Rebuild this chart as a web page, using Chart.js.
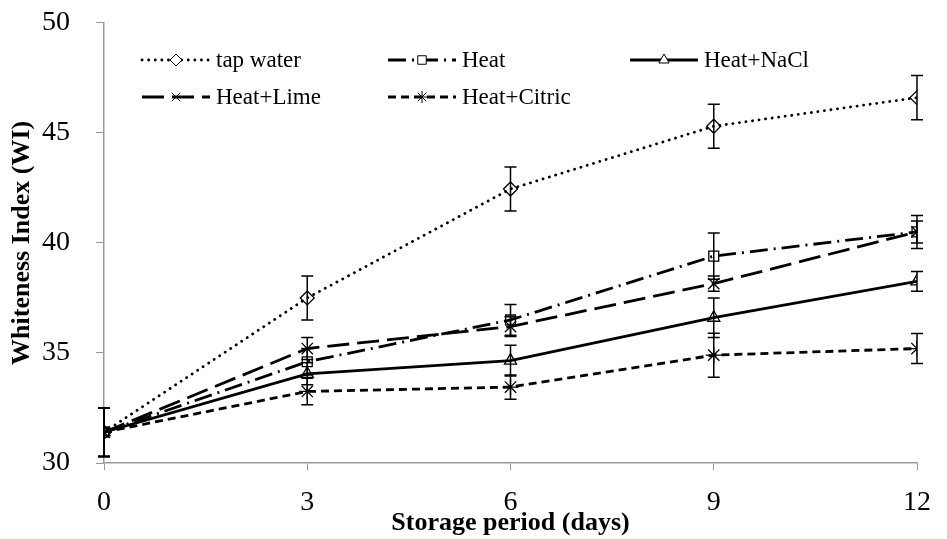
<!DOCTYPE html>
<html>
<head>
<meta charset="utf-8">
<script src="https://cdn.jsdelivr.net/npm/chart.js@4"></script>
<style>
  html, body { margin: 0; padding: 0; background: #fff; }
  #wrap { width: 947px; height: 539px; position: relative; }
</style>
</head>
<body>
<div id="wrap"><canvas id="whiteChart"></canvas></div>
<script>
// storage days and whiteness index per treatment
const days = [0, 3, 6, 9, 12];
const yTicks = [30, 35, 40, 45, 50];

const tapWater = [31.4, 37.5, 42.45, 45.3, 46.6];
const heat = [31.4, 34.6, 36.5, 39.4, 40.5];
const heatNaCl = [31.4, 34.05, 34.65, 36.6, 38.25];
const heatLime = [31.4, 35.2, 36.2, 38.15, 40.5];
const heatCitric = [31.4, 33.25, 33.45, 34.9, 35.2];

// error bar half-lengths
const tapWaterErr = [1.1, 1.0, 1.0, 1.0, 1.0];
const heatErr = [1.1, 0.6, 0.7, 1.05, 0.75];
const heatNaClErr = [1.1, 0.5, 0.7, 0.9, 0.45];
const heatLimeErr = [1.1, 0.5, 0.45, 0.35, 0.5];
const heatCitricErr = [1.1, 0.6, 0.55, 1.0, 0.68];

const SERIF = "'Liberation Serif', 'Times New Roman', serif";

function pts(values) {
  return days.map((d, i) => ({ x: d, y: values[i] }));
}

function series(label, values, errs, dash, pointStyle, legendPos) {
  return {
    label: label,
    data: pts(values),
    errors: errs,
    legendPos: legendPos,
    borderColor: "#000",
    borderWidth: 2.8,
    borderDash: dash,
    borderCapStyle: dash.length && dash[0] <= 1 ? "round" : "butt",
    pointStyle: pointStyle,
    pointRadius: pointStyle === "star" || pointStyle === "crossRot" ? 8 : 7,
    pointBorderWidth: 1.3,
    pointBorderColor: "#000",
    pointBackgroundColor: "rgba(255,255,255,0)",
    tension: 0,
    fill: false,
  };
}

// vertical error bars with caps
const errorBars = {
  id: "errorBars",
  afterDatasetsDraw(chart) {
    const ctx = chart.ctx;
    const ys = chart.scales.y;
    ctx.save();
    ctx.strokeStyle = "#000";
    ctx.lineWidth = 1.5;
    chart.data.datasets.forEach((ds, di) => {
      const meta = chart.getDatasetMeta(di);
      meta.data.forEach((pt, i) => {
        const v = ds.data[i].y;
        const e = ds.errors[i];
        const top = ys.getPixelForValue(v + e);
        const bot = ys.getPixelForValue(v - e);
        const x = pt.x;
        ctx.beginPath();
        ctx.moveTo(x, top); ctx.lineTo(x, bot);
        ctx.moveTo(x - 6, top); ctx.lineTo(x + 6, top);
        ctx.moveTo(x - 6, bot); ctx.lineTo(x + 6, bot);
        ctx.stroke();
      });
    });
    ctx.restore();
  },
};

// two-row legend inside the plot, like the original figure
const insideLegend = {
  id: "insideLegend",
  afterDraw(chart) {
    const ctx = chart.ctx;
    ctx.save();
    ctx.textBaseline = "middle";
    chart.data.datasets.forEach((ds) => {
      const [x, y] = ds.legendPos;
      const w = 68;
      ctx.save();
      ctx.strokeStyle = "#000";
      ctx.lineWidth = ds.borderWidth;
      ctx.setLineDash(ds.borderDash);
      ctx.lineCap = ds.borderCapStyle;
      ctx.beginPath();
      ctx.moveTo(x, y); ctx.lineTo(x + w, y);
      ctx.stroke();
      ctx.restore();
      ctx.save();
      ctx.fillStyle = "#fff";
      ctx.strokeStyle = "#000";
      Chart.helpers.drawPoint(ctx, {
        pointStyle: ds.pointStyle,
        radius: 6,
        borderWidth: 1.3,
      }, x + w / 2, y);
      ctx.restore();
      ctx.font = "23px " + SERIF;
      ctx.fillStyle = "#000";
      ctx.fillText(ds.label, x + w + 6, y + 1);
    });
    ctx.restore();
  },
};

const axisTitles = {
  id: "axisTitles",
  afterDraw(chart) {
    const ctx = chart.ctx;
    const area = chart.chartArea;
    ctx.save();
    ctx.fillStyle = "#000";
    ctx.font = "bold 26px " + SERIF;
    ctx.textAlign = "center";
    ctx.textBaseline = "middle";
    ctx.fillText("Storage period (days)", (area.left + area.right) / 2, 523);
    ctx.translate(22, (area.top + area.bottom) / 2);
    ctx.rotate(-Math.PI / 2);
    ctx.fillText("Whiteness Index (WI)", 0, 0);
    ctx.restore();
  },
};

const ctx = document.getElementById("whiteChart").getContext("2d");
const chart = new Chart(ctx, {
  type: "line",
  data: {
    datasets: [
      series("tap water", tapWater, tapWaterErr, [0.1, 6.5], "rectRot", [142, 60]),
      series("Heat", heat, heatErr, [18, 6, 2, 6], "rect", [388, 60]),
      series("Heat+NaCl", heatNaCl, heatNaClErr, [], "triangle", [630, 60]),
      series("Heat+Lime", heatLime, heatLimeErr, [22, 8], "crossRot", [142, 97]),
      series("Heat+Citric", heatCitric, heatCitricErr, [8, 5], "star", [388, 97]),
    ],
  },
  options: {
    responsive: true,
    maintainAspectRatio: false,
    animation: false,
    layout: { padding: { left: 42, right: 15, top: 12, bottom: 5 } },
    plugins: {
      legend: { display: false },
      tooltip: { enabled: false },
    },
    scales: {
      x: {
        type: "linear",
        min: 0,
        max: 12,
        afterFit(axis) { axis.height = 71; },
        ticks: { stepSize: 3, color: "#000", font: { family: SERIF, size: 28 }, padding: 16 },
        grid: { drawOnChartArea: false, color: "#999", tickLength: 7 },
        border: { color: "#999", width: 1.5 },
      },
      y: {
        min: 30,
        max: 50,
        afterBuildTicks(axis) { axis.ticks = yTicks.map(v => ({ value: v })); },
        afterFit(axis) { axis.width = 62; },
        ticks: { color: "#000", font: { family: SERIF, size: 28 }, padding: 6, crossAlign: "far" },
        grid: { drawOnChartArea: false, color: "#999", tickLength: 8 },
        border: { color: "#999", width: 1.5 },
      },
    },
  },
  plugins: [errorBars, insideLegend, axisTitles],
});
</script>
</body>
</html>
